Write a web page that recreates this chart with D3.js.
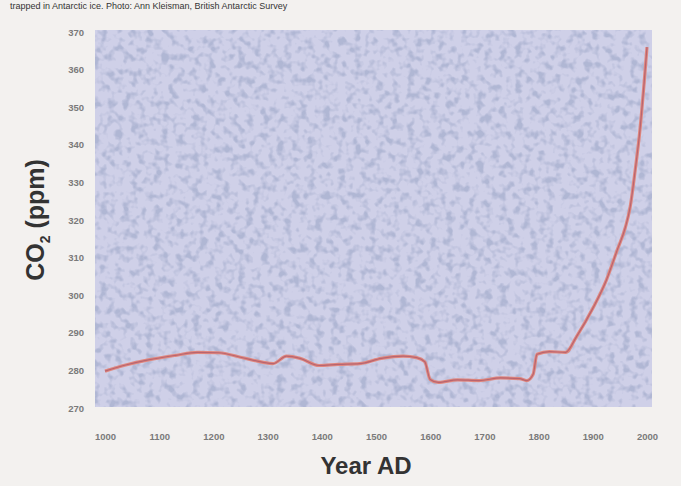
<!DOCTYPE html>
<html><head><meta charset="utf-8">
<script src="https://cdn.jsdelivr.net/npm/d3@7"></script>
<style>
html,body{margin:0;padding:0;background:#f3f1ef;}
svg{display:block;}
</style></head>
<body>
<svg id="chart" width="681" height="486"></svg>
<script>
const years = [1000,1040,1080,1130,1170,1210,1250,1290,1310,1335,1360,1395,1430,1470,1510,1550,1575,1590,1600,1615,1650,1690,1730,1765,1778,1790,1797,1820,1850,1870,1900,1925,1945,1960,1969,1978,1987,1995,2000];
const co2 = [279.8,281.5,282.8,284.0,284.8,284.7,283.5,282.2,281.8,283.8,283.2,281.3,281.6,281.8,283.2,283.8,283.4,282.3,277.6,276.8,277.5,277.3,278.0,277.8,277.3,279.0,284.3,285.0,284.8,289.0,296.5,304.0,312.0,318.0,323.5,333.0,344.0,357.0,366.0];
const xTicks = [1000,1100,1200,1300,1400,1500,1600,1700,1800,1900,2000];
const yTicks = [270,280,290,300,310,320,330,340,350,360,370];

const svg = d3.select("#chart");
const x = d3.scaleLinear().domain([1000,2000]).range([105,647]);
const y = d3.scaleLinear().domain([270,370]).range([408,32]);
const font = "Liberation Sans, Arial, sans-serif";

// caption at top
svg.append("text").attr("x",10).attr("y",9)
  .attr("font-family",font).attr("font-size",9)
  .attr("fill","#333").text("trapped in Antarctic ice. Photo: Ann Kleisman, British Antarctic Survey");

const defs = svg.append("defs");
const f = defs.append("filter").attr("id","ice").attr("x",0).attr("y",0).attr("width",1).attr("height",1)
  .attr("color-interpolation-filters","sRGB");
f.append("feTurbulence").attr("type","fractalNoise").attr("baseFrequency","0.13").attr("numOctaves",2).attr("seed",3).attr("result","n");
f.append("feColorMatrix").attr("in","n").attr("type","matrix")
  .attr("values","0 0 0 0 0.55  0 0 0 0 0.60  0 0 0 0 0.74  4 0 0 0 -1.9");

const px0 = 95, px1 = 652, py0 = 30, py1 = 407;
svg.append("rect").attr("x",px0).attr("y",py0).attr("width",px1-px0).attr("height",py1-py0).attr("fill","#cfd0e8");
svg.append("rect").attr("x",px0).attr("y",py0).attr("width",px1-px0).attr("height",py1-py0)
  .attr("filter","url(#ice)").attr("opacity",0.45);

// axes
const yAxis = svg.append("g").attr("transform","translate(84,0)")
  .call(d3.axisLeft(y).tickValues(yTicks).tickSize(0).tickPadding(0).tickFormat(d3.format("d")));
yAxis.select(".domain").remove();
yAxis.selectAll("text").attr("font-family",font).attr("font-size",9.5).attr("font-weight","bold").attr("fill","#7a7a7a");

const xAxis = svg.append("g").attr("transform","translate(0,433)")
  .call(d3.axisBottom(x).tickValues(xTicks).tickSize(0).tickPadding(0).tickFormat(d3.format("d")));
xAxis.select(".domain").remove();
xAxis.selectAll("text").attr("font-family",font).attr("font-size",9.5).attr("font-weight","bold").attr("fill","#7a7a7a");

// line
const pts = years.map((d,i)=>[d,co2[i]]);
const line = d3.line().x(d=>x(d[0])).y(d=>y(d[1])).curve(d3.curveMonotoneX);
svg.append("path").datum(pts).attr("d",line).attr("fill","none")
  .attr("stroke","#e0887f").attr("stroke-width",3.2).attr("stroke-linejoin","round");
svg.append("path").datum(pts).attr("d",line).attr("fill","none")
  .attr("stroke","#a8566a").attr("stroke-width",1.2).attr("stroke-linejoin","round").attr("opacity",0.7);

// titles
const yt = svg.append("text").attr("transform","translate(44,220) rotate(-90)")
  .attr("text-anchor","middle").attr("font-family",font).attr("font-size",25).attr("font-weight","bold").attr("fill","#333");
yt.append("tspan").text("CO");
yt.append("tspan").attr("font-size",14).attr("dy",6).text("2");
yt.append("tspan").attr("dy",-6).text(" (ppm)");

svg.append("text").attr("x",366).attr("y",474).attr("text-anchor","middle")
  .attr("font-family",font).attr("font-size",24).attr("font-weight","bold").attr("fill","#333").text("Year AD");
</script>
</body></html>
